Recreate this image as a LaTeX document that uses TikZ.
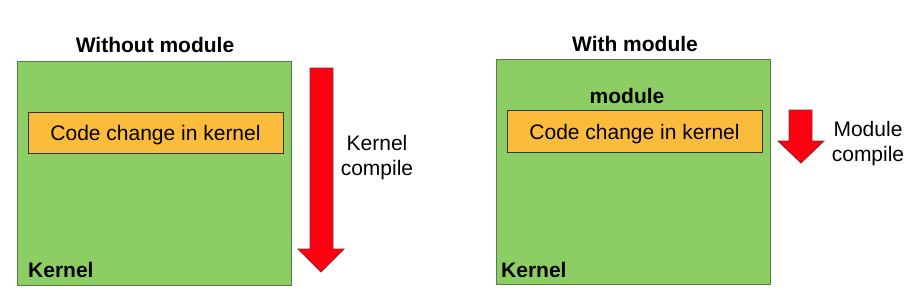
\documentclass[tikz,border=0pt]{standalone}
\usepackage{fontspec}
\setmainfont{Liberation Sans}
\definecolor{kgreen}{HTML}{8CCE64}
\definecolor{kgreenedge}{HTML}{5A7A48}
\definecolor{korange}{HTML}{FBBB3B}
\definecolor{kred}{HTML}{FF0010}
\definecolor{krededge}{HTML}{8A2A2A}
\tikzset{
  kernelbox/.style={draw=kgreenedge, fill=kgreen, line width=1pt},
  codebox/.style={draw=black!80, fill=korange, line width=1pt},
  redarrow/.style={draw=krededge, fill=kred, line width=0.8pt},
  txt/.style={font=\fontsize{21}{25}\selectfont, inner sep=0pt, anchor=base},
  btxt/.style={font=\fontsize{21}{25}\selectfont\bfseries, inner sep=0pt, anchor=base},
}
\begin{document}
\begin{tikzpicture}[x=1pt,y=-1pt]
\useasboundingbox (0,0) rectangle (906,293);
% left panel
\node[btxt] (t1) at (155,52.5) {Without module};
\draw[kernelbox] (17,61) rectangle (291,285);
\node[btxt, anchor=base west] (k1) at (28,277) {Kernel};
\draw[codebox] (28,112) rectangle (283,153);
\node[txt] (c1) at (155.5,140) {Code change in kernel};
\draw[redarrow] (310,68) -- (333,68) -- (333,249) -- (344,249) -- (321,272) -- (298,249) -- (310,249) -- cycle;
\node[txt] (l1a) at (377,150) {Kernel};
\node[txt] (l1b) at (377,175.5) {compile};
% right panel
\node[btxt] (t2) at (635,51.7) {With module};
\draw[kernelbox] (496,59) rectangle (770,284);
\node[btxt, anchor=base west] (k2) at (501,277) {Kernel};
\node[btxt] (m2) at (627,103.3) {module};
\draw[codebox] (507,110) rectangle (762,152);
\node[txt] (c2) at (634.5,139) {Code change in kernel};
\draw[redarrow] (789,110) -- (812,110) -- (812,141) -- (824,141) -- (801,163) -- (778,141) -- (789,141) -- cycle;
\node[txt] (l2a) at (868,136) {Module};
\node[txt] (l2b) at (868,161.7) {compile};
\end{tikzpicture}
\end{document}
